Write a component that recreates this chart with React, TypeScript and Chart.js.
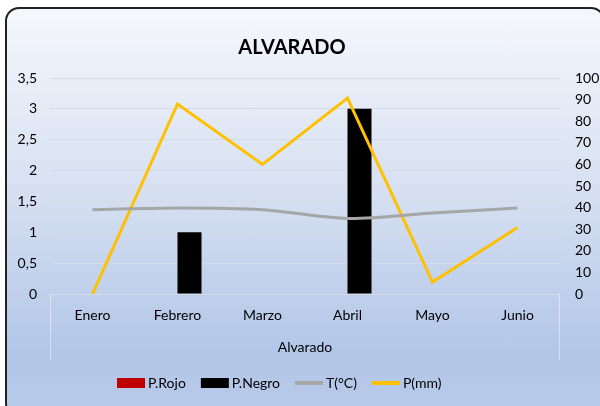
import React, { useEffect, useRef } from "react";
import { Chart, registerables } from "chart.js";

Chart.register(...registerables);

const categories = ["Enero", "Febrero", "Marzo", "Abril", "Mayo", "Junio"];
const pRojo = [0, 0, 0, 0, 0, 0];
const pNegro = [0, 1, 0, 3, 0, 0];
const tempC = [39, 39.8, 39, 35, 37.5, 39.8];
const precipMm = [0, 88, 60, 90.7, 5.5, 30.8];
const leftTicksMax = 3.5;
const rightTicksMax = 100;
const chartTitle = "ALVARADO";
const axisTitle = "Alvarado";

const FONT = "Lato, 'Open Sans', sans-serif";

const titlePlugin = {
  id: "customTitle",
  afterDraw(chart: any) {
    const ctx = chart.ctx;
    ctx.save();
    ctx.font = `bold 20px ${FONT}`;
    ctx.fillStyle = "#000";
    ctx.textAlign = "center";
    ctx.textBaseline = "middle";
    ctx.fillText(chartTitle, 292, 48);
    ctx.restore();
  },
};

const axisBoxPlugin = {
  id: "axisBox",
  beforeDatasetsDraw(chart: any) {
    const { ctx, chartArea } = chart;
    ctx.save();
    ctx.strokeStyle = "rgba(255,255,255,0.45)";
    ctx.lineWidth = 1;
    ctx.beginPath();
    ctx.moveTo(chartArea.left + 0.5, chartArea.bottom);
    ctx.lineTo(chartArea.left + 0.5, chartArea.bottom + 66);
    ctx.moveTo(chartArea.right - 0.5, chartArea.bottom);
    ctx.lineTo(chartArea.right - 0.5, chartArea.bottom + 66);
    ctx.stroke();
    ctx.restore();
  },
};

const legendPlugin = {
  id: "customLegend",
  afterDraw(chart: any) {
    const ctx = chart.ctx;
    const ds = chart.data.datasets;
    ctx.save();
    ctx.font = `14px ${FONT}`;
    ctx.textBaseline = "middle";
    ctx.textAlign = "left";
    const y = 383;
    let x = 117;
    const boxW = 28;
    for (const d of ds) {
      if (d.type === "bar") {
        ctx.fillStyle = d.backgroundColor;
        ctx.fillRect(x, y - 5, boxW, 10);
      } else {
        ctx.strokeStyle = d.borderColor;
        ctx.lineWidth = 4;
        ctx.beginPath();
        ctx.moveTo(x, y);
        ctx.lineTo(x + boxW, y);
        ctx.stroke();
      }
      x += boxW + 3;
      ctx.fillStyle = "#000";
      ctx.fillText(d.label, x, y);
      x += ctx.measureText(d.label).width + 15;
    }
    ctx.restore();
  },
};

export default function App() {
  const ref = useRef<HTMLCanvasElement>(null);

  useEffect(() => {
    if (!ref.current) return;
    const chart = new Chart(ref.current, {
      data: {
        labels: categories,
        datasets: [
          {
            type: "bar",
            label: "P.Rojo",
            data: pRojo,
            backgroundColor: "#c00000",
            borderWidth: 0,
            yAxisID: "y",
            order: 1,
            categoryPercentage: 0.565,
            barPercentage: 1,
          },
          {
            type: "bar",
            label: "P.Negro",
            data: pNegro,
            backgroundColor: "#000000",
            borderWidth: 0,
            yAxisID: "y",
            order: 1,
            categoryPercentage: 0.565,
            barPercentage: 1,
          },
          {
            type: "line",
            label: "T(°C)",
            data: tempC,
            borderColor: "#a6a6a6",
            backgroundColor: "#a6a6a6",
            borderWidth: 3,
            pointRadius: 0,
            tension: 0.3,
            yAxisID: "y1",
            order: 0,
          },
          {
            type: "line",
            label: "P(mm)",
            data: precipMm,
            borderColor: "#ffc000",
            backgroundColor: "#ffc000",
            borderWidth: 3,
            pointRadius: 0,
            tension: 0,
            yAxisID: "y1",
            order: 0,
          },
        ],
      } as any,
      options: {
        responsive: false,
        animation: false,
        devicePixelRatio: 1,
        layout: { padding: { top: 78, left: 0, right: 0, bottom: 0 } },
        plugins: {
          legend: { display: false },
          title: { display: false },
          tooltip: { enabled: false },
        },
        scales: {
          x: {
            grid: { display: false, drawTicks: false },
            border: { display: false },
            ticks: { font: { family: FONT, size: 14 }, color: "#000", padding: 13 },
            title: {
              display: true,
              text: axisTitle,
              font: { family: FONT, size: 14 },
              color: "#000",
              padding: { top: 0, bottom: 50 },
            },
            afterFit(scale: any) {
              scale.height = 112;
            },
          },
          y: {
            position: "left",
            min: 0,
            max: leftTicksMax,
            ticks: {
              stepSize: 0.5,
              font: { family: FONT, size: 14 },
              color: "#000",
              padding: 13,
              callback: (v: any) => String(v).replace(".", ","),
            },
            grid: { color: "#d5dbe6", drawTicks: false, lineWidth: 1 },
            border: { display: false },
            afterFit(scale: any) {
              scale.width = 50;
            },
          },
          y1: {
            position: "right",
            min: 0,
            max: rightTicksMax,
            ticks: {
              stepSize: 10,
              font: { family: FONT, size: 14 },
              color: "#000",
              padding: 15,
            },
            grid: { display: false, drawTicks: false },
            border: { display: false },
            afterFit(scale: any) {
              scale.width = 40;
            },
          },
        },
      } as any,
      plugins: [titlePlugin, axisBoxPlugin, legendPlugin],
    });
    return () => chart.destroy();
  }, []);

  return (
    <div style={{ position: "fixed", left: 0, top: 0, width: 600, height: 406, background: "#fff", overflow: "hidden" }}>
      <div
        style={{
          position: "absolute",
          left: 5,
          top: 7,
          width: 600,
          height: 410,
          border: "2px solid #222",
          borderRadius: 14,
          boxSizing: "border-box",
          background: "linear-gradient(to bottom, #f5f7fc 0%, #d6e0f1 45%, #b2c6e8 85%, #b8cae9 100%)",
        }}
      />
      <canvas ref={ref} width={600} height={406} style={{ position: "absolute", left: 0, top: 0 }} />
    </div>
  );
}
